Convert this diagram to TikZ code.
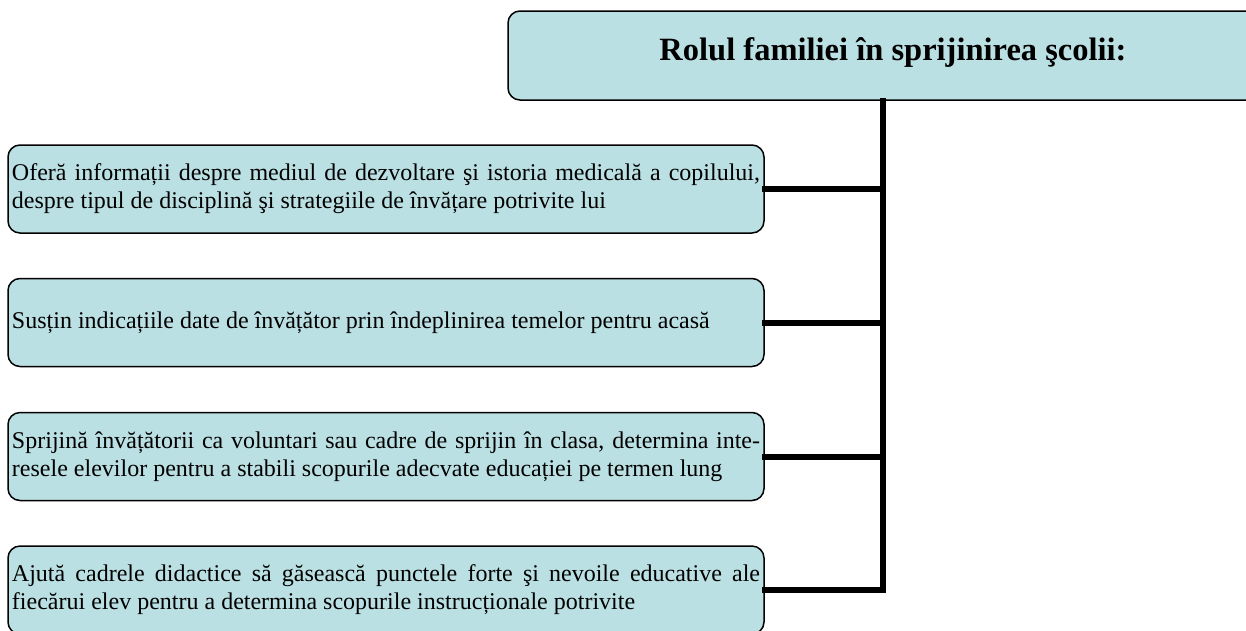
\documentclass[tikz,border=0pt]{standalone}
\usepackage{fontspec}
\setmainfont{Liberation Serif}
\definecolor{boxfill}{RGB}{187,224,227}
\tikzset{
  itembox/.style={draw=black, line width=1.5pt, fill=boxfill, rounded corners=12pt,
    text width=748pt, inner xsep=4pt, minimum height=88pt, align=justify,
    font=\fontsize{24}{28}\selectfont},
  headbox/.style={draw=black, line width=1.5pt, fill=boxfill, rounded corners=12pt,
    minimum width=770pt, minimum height=89pt, align=center,
    font=\fontsize{32.5}{38}\selectfont\bfseries},
  link/.style={line width=6pt, line cap=rect, line join=miter}
}
\begin{document}
\begin{tikzpicture}[x=1pt,y=-1pt]
\useasboundingbox (0,0) rectangle (1246,630);
\node[headbox] (head) at (893,55.5) {\raisebox{-5pt}[0pt][0pt]{Rolul familiei în sprijinirea şcolii:}};
\node[itembox] (b1) at (386,189) {Oferă informații despre mediul de dezvoltare şi istoria medicală a copilului,\linebreak despre tipul de disciplină şi strategiile de învățare potrivite lui};
\node[itembox] (b2) at (386,322.5) {Susțin indicațiile date de învățător prin îndeplinirea temelor pentru acasă};
\node[itembox] (b3) at (386,456.5) {Sprijină învățătorii ca voluntari sau cadre de sprijin în clasa, determina inte-\linebreak resele elevilor pentru a stabili scopurile adecvate educației pe termen lung};
\node[itembox] (b4) at (386,590) {Ajută cadrele didactice să găsească punctele forte şi nevoile educative ale\linebreak fiecărui elev pentru a determina scopurile instrucționale potrivite};
\coordinate (top) at (883,100.5);
\draw[link] (top) -- (top |- b4.east) -- (b4.east);
\draw[link] (b1.east) -- (b1.east -| top);
\draw[link] (b2.east) -- (b2.east -| top);
\draw[link] (b3.east) -- (b3.east -| top);
\end{tikzpicture}
\end{document}
